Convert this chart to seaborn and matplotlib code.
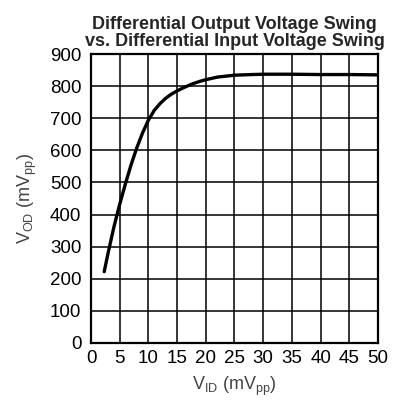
import matplotlib
matplotlib.use("Agg")
import matplotlib.pyplot as plt
import seaborn as sns
import pandas as pd

vid = [2.3, 3, 4, 5, 6, 7, 8, 9, 10, 11, 12, 13, 14, 15, 16, 17, 18, 19, 20, 22, 25, 28, 30, 35, 40, 45, 50]
vod = [222, 282, 362, 432, 496, 556, 609, 655, 694, 724, 745, 762, 775, 785, 794, 802, 809, 815, 820, 828, 834, 836, 837, 837, 836, 836, 835]
xticks = list(range(0, 51, 5))
yticks = list(range(0, 901, 100))

sns.set_theme(style="white")
plt.rcParams['font.family'] = ['Liberation Sans', 'DejaVu Sans']
plt.rcParams['mathtext.fontset'] = 'custom'
plt.rcParams['mathtext.rm'] = 'Liberation Sans'
plt.rcParams['mathtext.it'] = 'Liberation Sans'

fig = plt.figure(figsize=(4.07, 4.03), dpi=100)
ax = fig.add_axes([0.2236, 0.149, 0.7051, 0.717])
df = pd.DataFrame({"vid": vid, "vod": vod})
sns.lineplot(data=df, x="vid", y="vod", ax=ax, color="black", lw=2.4)
ax.set_xlim(0, 50)
ax.set_ylim(0, 900)
ax.set_xticks(xticks)
ax.set_yticks(yticks)
ax.grid(True, color="black", lw=1.1)
ax.set_axisbelow(True)
for s in ax.spines.values():
    s.set_color("black")
    s.set_linewidth(1.6)
ax.tick_params(axis="y", length=0, labelsize=13.5, colors="black", pad=7)
ax.tick_params(axis="x", length=0, labelsize=13.5, colors="black", pad=5)
ax.set_xlabel(r'V$_{\mathregular{ID}}$ (mV$_{\mathregular{pp}}$)', fontsize=13, color="#444444", labelpad=6)
ax.set_ylabel(r'V$_{\mathregular{OD}}$ (mV$_{\mathregular{pp}}$)', fontsize=13, color="#444444", labelpad=8)
ax.set_title("Differential Output Voltage Swing\nvs. Differential Input Voltage Swing",
             fontsize=13, fontweight="bold", linespacing=1.0, pad=6)
fig.savefig("out.png", dpi=100)
